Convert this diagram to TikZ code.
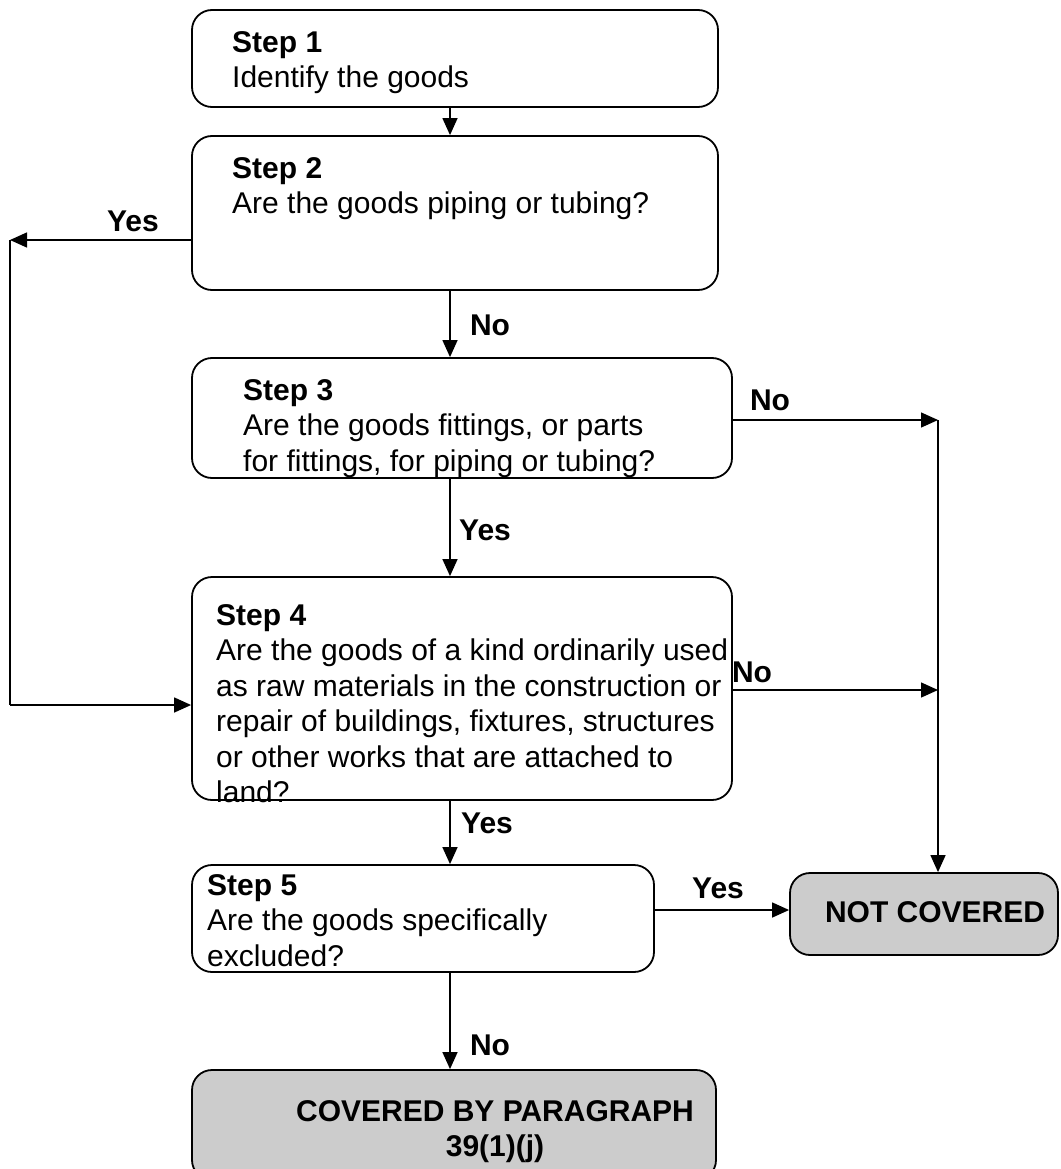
\documentclass[tikz,border=0pt]{standalone}
\usepackage{fontspec}
\setmainfont{Liberation Sans}
\usetikzlibrary{arrows.meta}
\tikzset{
  box/.style={draw=black, line width=1.8pt, rounded corners=20pt, fill=white},
  endbox/.style={box, fill=black!20},
  txt/.style={inner sep=0pt, align=left, anchor=north west, font={\fontsize{30}{35.5}\selectfont}},
  lbl/.style={inner sep=0pt, font={\fontsize{30}{35.5}\selectfont\bfseries}},
  conn/.style={line width=1.4pt, -{Triangle[length=17pt,width=15pt]}},
  plain/.style={line width=1.4pt}
}
\begin{document}
\begin{tikzpicture}[x=1pt,y=-1pt]
\clip (0,0) rectangle (1060,1169);
\fill[white] (0,0) rectangle (1060,1169);
% boxes
\node[box, minimum width=526pt, minimum height=97pt, inner sep=0pt] (s1) at (455,58.5) {};
\node[box, minimum width=526pt, minimum height=154pt, inner sep=0pt] (s2) at (455,213) {};
\node[box, minimum width=540pt, minimum height=120pt, inner sep=0pt] (s3) at (462,418) {};
\node[box, minimum width=540pt, minimum height=223pt, inner sep=0pt] (s4) at (462,688.5) {};
\node[box, minimum width=462pt, minimum height=107pt, inner sep=0pt] (s5) at (423,918.5) {};
\node[endbox, minimum width=268pt, minimum height=82pt, inner sep=0pt] (nc) at (924,914) {};
\node[endbox, minimum width=524pt, minimum height=110pt, inner sep=0pt] (cv) at (454,1125) {};
% texts
\node[txt] (t1) at (232,31) {\textbf{Step 1}\\Identify the goods};
\node[txt] (t2) at (232,157) {\textbf{Step 2}\\Are the goods piping or tubing?};
\node[txt] (t3) at (243,379) {\textbf{Step 3}\\Are the goods fittings, or parts\\for fittings, for piping or tubing?};
\node[txt] (t4) at (216,604) {\textbf{Step 4}\\Are the goods of a kind ordinarily used\\as raw materials in the construction or\\repair of buildings, fixtures, structures\\or other works that are attached to\\land?};
\node[txt] (t5) at (207,874) {\textbf{Step 5}\\Are the goods specifically\\excluded?};
\node[lbl] (tnc) at (935,912) {NOT COVERED};
\node[lbl, align=center, anchor=north] (tcv) at (495,1100) {COVERED BY PARAGRAPH\\39(1)(j)};
% helper coordinates
\coordinate (lt) at (10,240);
\coordinate (lb) at (10,705);
\coordinate (r3) at (938,420);
\coordinate (r4) at (938,690);
% connectors
\draw[conn] (s1.south -| 450,0) -- (s2.north -| 450,0);
\draw[conn] (s2.south -| 450,0) -- (s3.north -| 450,0);
\draw[conn] (s3.south -| 450,0) -- (s4.north -| 450,0);
\draw[conn] (s4.south -| 450,0) -- (s5.north -| 450,0);
\draw[conn] (s5.south -| 450,0) -- (cv.north -| 450,0);
\draw[conn] (s2.west |- lt) -- (lt);
\draw[plain] (lt) -- (lb);
\draw[conn] (lb) -- (s4.west |- lb);
\draw[conn] (s3.east |- r3) -- (r3);
\draw[conn] (s4.east |- r4) -- (r4);
\draw[conn] (r3) -- (nc.north -| r3);
\draw[conn] (s5.east |- 0,910) -- (nc.west |- 0,910);
% labels
\node[lbl] (yes2) at (133,221) {Yes};
\node[lbl] (no2) at (490,325) {No};
\node[lbl] (no3) at (770,400) {No};
\node[lbl] (yes3) at (485,530) {Yes};
\node[lbl] (no4) at (752,672) {No};
\node[lbl] (yes4) at (487,823) {Yes};
\node[lbl] (yes5) at (718,888) {Yes};
\node[lbl] (no5) at (490,1045) {No};
\end{tikzpicture}
\end{document}
